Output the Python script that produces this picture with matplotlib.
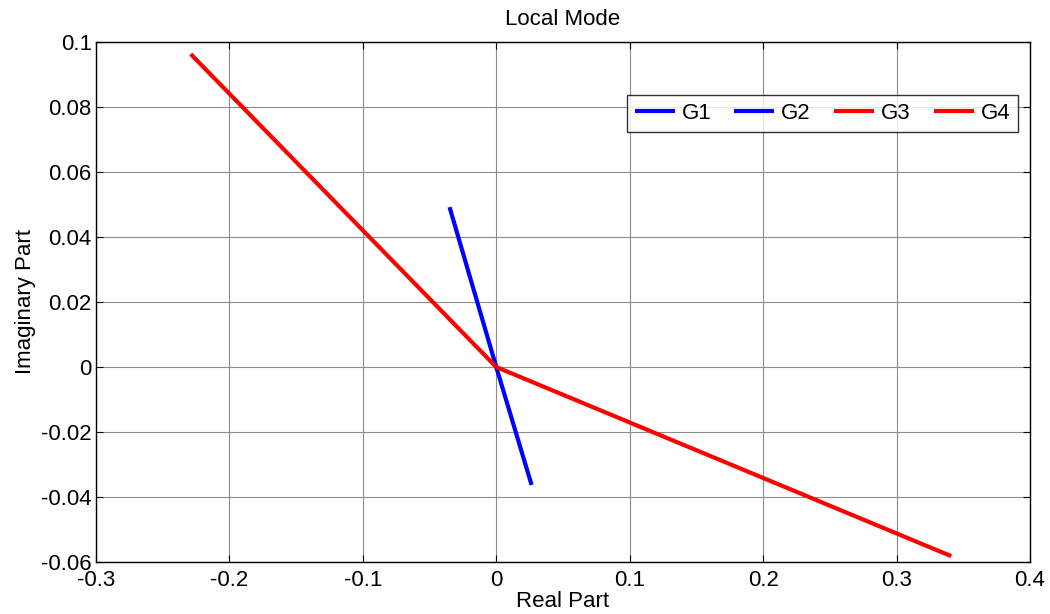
import matplotlib
matplotlib.use("Agg")
import matplotlib.pyplot as plt

plt.rcParams['font.family'] = ['Liberation Sans', 'DejaVu Sans']

# Eigenvector components of the local mode (real, imaginary)
names = ["G1", "G2", "G3", "G4"]
real_parts = [-0.035, 0.0265, -0.229, 0.341]
imag_parts = [0.0492, -0.0363, 0.0963, -0.0582]
colors = ["#0000ff", "#0000ff", "#ff0000", "#ff0000"]

x_ticks = [-0.3, -0.2, -0.1, 0, 0.1, 0.2, 0.3, 0.4]
y_ticks = [-0.06, -0.04, -0.02, 0, 0.02, 0.04, 0.06, 0.08, 0.1]

FS = 16

fig = plt.figure(figsize=(10.5, 6.14), dpi=100)
ax = fig.add_axes([0.0914, 0.0847, 0.8895, 0.8469])

for name, re, im, c in zip(names, real_parts, imag_parts, colors):
    ax.plot([0, re], [0, im], color=c, lw=3.0, label=name, solid_capstyle='butt')

ax.set_xlim(x_ticks[0], x_ticks[-1])
ax.set_ylim(y_ticks[0], y_ticks[-1])
ax.set_xticks(x_ticks)
ax.set_yticks(y_ticks)
ax.set_xticklabels([f"{v:g}" for v in x_ticks])
ax.set_yticklabels([f"{v:g}" for v in y_ticks])
ax.tick_params(direction='in', length=5, width=0.8, top=True, right=True,
               labelsize=FS, colors='black')
ax.tick_params(axis='x', pad=6)
ax.tick_params(axis='y', pad=3)
ax.grid(True, color='#8c8c8c', lw=0.8)
ax.set_axisbelow(True)
for s in ax.spines.values():
    s.set_linewidth(1.0)
    s.set_color('black')

ax.set_title("Local Mode", fontsize=FS, pad=12)
ax.set_xlabel("Real Part", fontsize=FS, labelpad=0)
ax.set_ylabel("Imaginary Part", fontsize=FS, labelpad=4)

leg = ax.legend(ncol=4, loc='upper right', bbox_to_anchor=(0.987, 0.898),
                fontsize=FS, frameon=True, fancybox=False, edgecolor='black',
                handlelength=1.8, handletextpad=0.3, columnspacing=1.05,
                borderpad=0.35, borderaxespad=0)
leg.get_frame().set_linewidth(1.0)

fig.savefig("out.png", dpi=100)
